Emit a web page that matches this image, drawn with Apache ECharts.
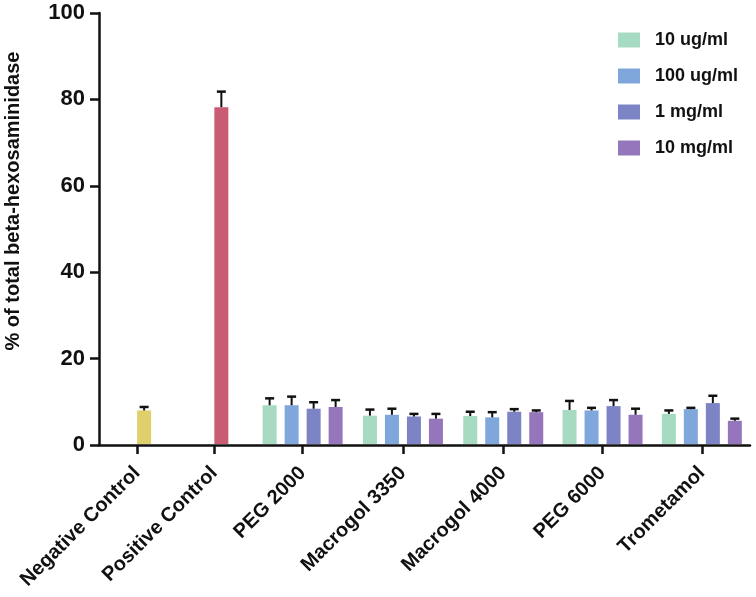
<!DOCTYPE html>
<html lang="en">
  <head>
    <meta charset="UTF-8" />
    <title>beta-hexosaminidase release</title>
    <script src="https://cdn.jsdelivr.net/npm/echarts@6/dist/echarts.min.js"></script>
    <style>
      html,
      body,
      #chart {
        width: 100%;
        height: 100%;
        margin: 0;
        padding: 0;
        overflow: hidden;
        background: #fff;
      }
    </style>
  </head>
  <body>
    <div id="chart"></div>
    <script>
      // data
      const categories = [
        "Negative Control",
        "Positive Control",
        "PEG 2000",
        "Macrogol 3350",
        "Macrogol 4000",
        "PEG 6000",
        "Trometamol",
      ];
      const concentrations = ["10 ug/ml", "100 ug/ml", "1 mg/ml", "10 mg/ml"];
      const controlMean = [8.0, 78.2];
      const controlErr = [0.8, 3.6];
      // one array per concentration, for PEG 2000 .. Trometamol
      const mean10ug = [9.2, 6.8, 6.7, 8.1, 7.2];
      const err10ug = [1.6, 1.4, 1.0, 2.1, 0.8];
      const mean100ug = [9.2, 7.0, 6.4, 8.0, 8.3];
      const err100ug = [2.0, 1.4, 1.2, 0.6, 0.3];
      const mean1mg = [8.4, 6.6, 7.7, 9.0, 9.7];
      const err1mg = [1.5, 0.6, 0.6, 1.4, 1.7];
      const mean10mg = [8.8, 6.1, 7.6, 7.0, 5.6];
      const err10mg = [1.6, 1.1, 0.4, 1.4, 0.5];
      const yTicks = [0, 20, 40, 60, 80, 100];

      // layout: where each category sits on the x axis (prism-style spacing)
      const groupPos = [0.38, 1.15, 2.03, 3.03, 4.03, 5.02, 6.01];
      const xMax = 6.49;
      const barW = 14;
      const pitch = 22;
      const capW = 9;
      const colors = ["#a6dbc1", "#80a7dc", "#7c84c5", "#9576bd"];
      const controlColors = ["#e0d06c", "#c95c72"];

      const means = [mean10ug, mean100ug, mean1mg, mean10mg];
      const errs = [err10ug, err100ug, err1mg, err10mg];

      function barWithError(offset, colorOf) {
        return function (params, api) {
          const idx = api.value(0);
          const v = api.value(1);
          const e = api.value(2);
          const base = api.coord([groupPos[idx], 0]);
          const top = api.coord([groupPos[idx], v]);
          const cap = api.coord([groupPos[idx], v + e]);
          const cx = base[0] + offset;
          return {
            type: "group",
            children: [
              {
                type: "rect",
                shape: {
                  x: cx - barW / 2,
                  y: top[1],
                  width: barW,
                  height: base[1] - top[1] - 1,
                },
                style: { fill: colorOf(params, api) },
              },
              {
                type: "line",
                shape: { x1: cx, y1: top[1], x2: cx, y2: cap[1] },
                style: { stroke: "#111", lineWidth: 2 },
              },
              {
                type: "line",
                shape: { x1: cx - capW / 2, y1: cap[1], x2: cx + capW / 2, y2: cap[1] },
                style: { stroke: "#111", lineWidth: 2.5 },
              },
            ],
          };
        };
      }

      const series = concentrations.map((name, i) => ({
        name: name,
        type: "custom",
        itemStyle: { color: colors[i] },
        renderItem: barWithError((i - 1.5) * pitch, (p, api) => api.visual("color")),
        data: means[i].map((m, j) => [j + 2, m, errs[i][j]]),
      }));
      series.push({
        name: "controls",
        type: "custom",
        renderItem: barWithError(barW / 2, (p) => controlColors[p.dataIndex]),
        data: controlMean.map((m, j) => [j, m, controlErr[j]]),
      });

      const chart = echarts.init(document.getElementById("chart"));
      chart.setOption({
        animation: false,
        textStyle: { fontFamily: "Liberation Sans, Arial, sans-serif" },
        grid: { left: 99, right: 6, top: 13, bottom: 152, outerBoundsMode: "none" },
        legend: {
          data: concentrations,
          orient: "vertical",
          left: 613,
          top: 25,
          icon: "rect",
          itemWidth: 22,
          itemHeight: 15,
          itemGap: 16,
          textStyle: {
            fontSize: 18,
            fontWeight: "bold",
            color: "#111",
            lineHeight: 20,
            padding: [0, 0, 0, 10],
          },
        },
        xAxis: {
          type: "value",
          min: 0,
          max: xMax,
          splitLine: { show: false },
          axisLine: { show: true, lineStyle: { color: "#111", width: 2.5 } },
          axisTick: {
            show: true,
            length: 9,
            customValues: groupPos,
            lineStyle: { color: "#111", width: 2.5 },
          },
          axisLabel: {
            customValues: groupPos,
            rotate: 45,
            margin: 25,
            fontSize: 20,
            fontWeight: "bold",
            color: "#111",
            formatter: (v) => categories[groupPos.indexOf(v)] || "",
          },
        },
        yAxis: {
          type: "value",
          min: 0,
          max: 100,
          interval: 20,
          name: "% of total beta-hexosaminidase",
          nameLocation: "middle",
          nameGap: 76,
          nameTextStyle: {
            fontSize: 20,
            fontWeight: "bold",
            color: "#111",
            padding: [0, 0, 0, 56],
          },
          splitLine: { show: false },
          axisLine: { show: true, lineStyle: { color: "#111", width: 2.5 } },
          axisTick: { show: true, length: 9, lineStyle: { color: "#111", width: 2.5 } },
          axisLabel: {
            margin: 14,
            fontSize: 22,
            fontWeight: "bold",
            color: "#111",
            formatter: (v) => (yTicks.indexOf(v) >= 0 ? String(v) : ""),
          },
        },
        series: series,
      });
    </script>
  </body>
</html>
